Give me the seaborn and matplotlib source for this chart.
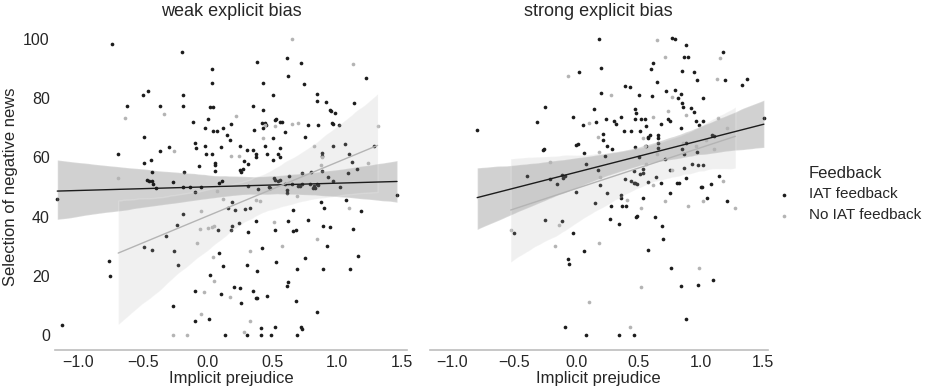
import numpy as np
import pandas as pd
import seaborn as sns
import matplotlib
matplotlib.use("Agg")
import matplotlib.pyplot as plt
from matplotlib.collections import PolyCollection

# ---------------- data ----------------
weak_iat_x = [-1.16,-1.12,-0.74,-0.76,-0.75,-0.69,-0.62,-0.50,-0.46,-0.49,-0.49,-0.47,-0.45,-0.43,-0.43,-0.42,-0.40,-0.44,-0.49,-0.43,
              -0.37,-0.37,-0.32,-0.30,-0.27,-0.26,-0.27,-0.24,-0.23,-0.20,-0.19,-0.19,-0.19,-0.19,-0.18,-0.14,-0.11,-0.10,-0.09,-0.10,
              -0.10,-0.10,-0.07,-0.05,-0.02,-0.02,0.00,-0.01,0.01,0.02,0.04,0.03,0.03,0.03,0.02,0.04,0.06,0.06,0.06,0.07,
              0.08,0.09,0.09,0.10,0.10,0.11,0.12,0.13,0.12,0.15,0.16,0.17,0.18,0.18,0.19,0.19,0.20,0.21,0.24,0.25,
              0.25,0.25,0.26,0.27,0.26,0.28,0.29,0.30,0.30,0.31,0.30,0.31,0.31,0.33,0.35,0.35,0.35,0.36,0.37,0.38,
              0.37,0.37,0.37,0.38,0.38,0.39,0.41,0.41,0.42,0.43,0.43,0.44,0.42,0.43,0.45,0.44,0.46,0.46,0.47,0.48,
              0.49,0.50,0.50,0.50,0.51,0.52,0.52,0.52,0.52,0.53,0.53,0.54,0.54,0.56,0.57,0.56,0.56,0.56,0.60,0.61,
              0.61,0.60,0.61,0.61,0.62,0.62,0.62,0.63,0.65,0.66,0.66,0.68,0.68,0.69,0.69,0.70,0.71,0.72,0.73,0.72,
              0.73,0.73,0.74,0.75,0.75,0.77,0.77,0.79,0.80,0.81,0.82,0.83,0.84,0.84,0.84,0.84,0.85,0.85,0.87,0.88,
              0.88,0.88,0.89,0.89,0.90,0.91,0.92,0.93,0.94,0.94,0.95,0.96,0.97,0.97,0.97,0.98,1.01,1.02,1.06,1.07,
              1.08,1.09,1.10,1.11,1.12,1.13,1.15,1.16,1.18,1.22,1.28,1.46]
weak_iat_y = [46,3.5,98.3,25,20,61,77.5,81,82.5,67,58,52.5,52,55,52,51,49.7,59,29.7,28.9,
              77.5,62,33.4,63.5,51.6,28.3,10,37.3,23.6,95.5,41,81,77.5,50,55,50,71.8,64.7,63,48.3,
              15,4.7,57,50,70,63.7,73,61,5.6,77,77,89.7,85,61,20.4,69,58,57.5,55.4,69,
              35.6,27.8,51.3,14,63.6,52,70,0,23.3,67.4,43,66,71.3,35.5,37,45,16.4,42.2,37.8,16,
              64,55.6,55,56,10.8,58.8,42.5,62.5,23.7,34.8,0,50.3,57.6,43,15,77.4,62.4,69.4,12.7,12.5,
              60.2,61.3,38.5,92.2,21.6,49.3,0,2.5,29.4,76,70,71.7,71.7,85,71,64,61,13.3,50,49.5,
              0,66.5,59.2,81,53,52.5,2.7,35.4,72.7,73,24.6,52,61,72,72,63,52.4,60,51,49,
              48,68.5,93.5,16.7,17.8,87.6,38.4,53.7,51,42.1,35.3,35.5,11.5,0,22.2,50.3,50.4,2.6,2,92,
              54.6,51.1,84.7,26.2,66.9,71,39,51,55,49.5,50.4,49.5,51,81.5,79,7.9,50.8,71,44.8,61.5,
              60.5,55.5,37,22.2,42.8,78.7,30.2,53.4,76,36.5,75.5,71.5,71.2,52,64,75,70.8,50,64.5,45.7,
              54.8,61,22.4,58.5,35.7,78.2,56,26.6,42,86.7,64,47.4]

weak_no_x = [-0.69,-0.64,-0.34,-0.26,-0.27,-0.16,-0.08,-0.06,-0.05,-0.05,-0.03,0.00,0.03,0.04,0.05,0.05,0.07,0.12,0.17,0.18,
             0.22,0.24,0.28,0.33,0.33,0.37,0.40,0.43,0.44,0.51,0.52,0.57,0.62,0.65,0.65,0.69,0.70,0.82,0.84,0.87,
             0.88,1.09,1.12,1.24,1.31]
weak_no_y = [53,73.4,74.6,62.1,0,0,31,35.7,42,7,14.6,36,36.5,26.4,18.3,36.9,48.5,46,13,60.4,
             74,60.4,1.1,4.8,28.5,45.6,45.4,66.6,70.8,38.3,70.6,30,51,100,71.3,47,71.5,63.8,32.6,57.3,
             60,42.8,91.5,58,70.6]

strong_iat_x = [-0.80,-0.50,-0.40,-0.32,-0.25,-0.27,-0.26,-0.25,-0.21,-0.16,-0.12,-0.11,-0.12,-0.09,-0.09,-0.07,-0.06,-0.03,-0.03,0.00,
                0.00,0.01,0.02,0.05,0.06,0.06,0.08,0.08,0.14,0.15,0.16,0.17,0.18,0.19,0.20,0.20,0.21,0.21,0.23,0.25,
                0.24,0.25,0.27,0.28,0.29,0.30,0.32,0.34,0.34,0.36,0.36,0.37,0.36,0.39,0.39,0.38,0.40,0.43,0.44,0.44,
                0.46,0.47,0.49,0.46,0.46,0.47,0.47,0.47,0.48,0.48,0.49,0.50,0.50,0.51,0.52,0.55,0.51,0.54,0.54,0.54,
                0.56,0.56,0.58,0.58,0.58,0.58,0.59,0.60,0.61,0.62,0.63,0.64,0.65,0.66,0.66,0.66,0.66,0.68,0.68,0.69,
                0.70,0.71,0.72,0.74,0.75,0.75,0.75,0.76,0.77,0.79,0.79,0.81,0.82,0.83,0.84,0.85,0.84,0.87,0.90,0.85,
                0.85,0.86,0.87,0.87,0.88,0.88,0.84,0.88,0.88,0.92,0.93,0.95,0.95,0.96,0.97,0.97,0.98,0.98,0.99,1.00,
                1.01,1.02,1.02,1.02,1.05,1.08,1.09,1.10,1.11,1.15,1.18,1.20,1.21,1.33,1.37,1.51]
strong_iat_y = [69.4,34.4,53.7,71.9,77.1,62.5,62.8,38.7,52.6,50.9,54,53.2,38.5,53.7,2.8,25.6,24.1,73.5,34.4,48.3,
                64.3,64.5,88.7,71,61.6,28.4,57.8,0,76.2,44.7,72,55.6,100,50.7,90,81.6,66,67.9,60.6,63.7,
                73.1,47.9,39.1,43.5,62.8,72.2,71.4,37.6,0,47.2,46.4,43.5,73.7,84,52.6,69,43.6,83.7,69,52,
                51.5,51.5,51,55.3,0,63.4,76.4,73,75,39.8,40.1,81,60,54.3,73,73,69,56,54.8,46.4,
                63.7,70.6,28.7,51.7,66.5,67,67.6,89.7,80.8,91.7,40,53.4,85.5,67.4,66.4,65,63,51.2,71.1,37,
                32.4,59.5,82.4,73,72.3,48.1,55.6,22.8,100.3,100,82.7,51.2,80,51.5,81.5,89,69.8,94,94,62.8,
                78.4,77.1,61,56.5,97.8,64.7,16.6,5.4,53.1,76.7,57.6,88.8,75.2,72.2,86.2,61.7,57.5,16.9,70.9,50,
                50,79.9,72.2,57.4,46.2,50.9,67.4,18.7,67.2,53.7,95.6,86,45.3,84.5,86.6,73.4]

strong_no_x = [-0.53,-0.21,-0.17,-0.14,-0.07,0.10,0.10,0.17,0.18,0.18,0.19,0.28,0.41,0.43,0.52,0.52,0.54,0.55,0.56,0.62,
               0.62,0.65,0.65,0.71,0.71,0.74,0.77,0.77,0.86,0.88,0.90,0.96,0.99,1.02,1.04,1.11,1.13,1.14,1.16,1.18,
               1.21,1.28]
strong_no_y = [35.5,58.4,30.1,37.3,87.4,71.6,11.2,66.9,61.8,31.2,53.4,81.2,45.5,2.6,43,16.4,66.6,63.7,57.8,73.7,
               50.8,99.7,61.1,45.3,93.9,75.8,80.4,55.6,65,74.3,43.6,63.7,22.8,45.3,65.8,62.7,86.5,73.4,93.6,52,
               70,42.8]

panels = ["weak explicit bias", "strong explicit bias"]
feedback_levels = ["IAT feedback", "No IAT feedback"]
colors = ["#1c1c1c", "#b4b4b4"]

frames = []
for panel, fb, xs, ys in [
    (panels[0], feedback_levels[0], weak_iat_x, weak_iat_y),
    (panels[0], feedback_levels[1], weak_no_x, weak_no_y),
    (panels[1], feedback_levels[0], strong_iat_x, strong_iat_y),
    (panels[1], feedback_levels[1], strong_no_x, strong_no_y),
]:
    frames.append(pd.DataFrame({"Implicit prejudice": xs,
                                "Selection of negative news": ys,
                                "Feedback": fb, "bias": panel}))
df = pd.concat(frames, ignore_index=True)

# ---------------- plot ----------------
sns.set_style("white")
plt.rcParams["font.family"] = ["Liberation Sans", "DejaVu Sans"]

g = sns.lmplot(data=df, x="Implicit prejudice", y="Selection of negative news",
               hue="Feedback", col="bias", col_order=panels,
               hue_order=feedback_levels, palette=colors,
               height=3.88, aspect=1.0,
               scatter_kws={"s": 7, "linewidths": 0, "alpha": 1},
               line_kws={"lw": 1.0}, legend=True, sharey=True, sharex=True)

fig = g.figure
fig.set_size_inches(9.43, 3.88)
fig.set_dpi(100)

txt = "#262626"
positions = [[0.058, 0.098, 0.374, 0.840], [0.456, 0.098, 0.358, 0.840]]
for ax, pos, title in zip(g.axes.flat, positions, panels):
    ax.set_position(pos)
    ax.set_title(title, fontsize=13, color=txt)
    ax.set_xlim(-1.18, 1.54)
    ax.set_ylim(-5, 105)
    ax.set_xticks([-1.0, -0.5, 0.0, 0.5, 1.0, 1.5])
    ax.set_yticks([0, 20, 40, 60, 80, 100])
    ax.tick_params(labelsize=11.5, colors=txt, length=0)
    ax.set_xlabel("Implicit prejudice", fontsize=12, color=txt, labelpad=1)
    for s in ["left", "top", "right"]:
        ax.spines[s].set_visible(False)
    ax.spines["bottom"].set_color("#bdbdbd")
    ax.spines["bottom"].set_linewidth(1.2)
    for coll in ax.collections:
        if isinstance(coll, PolyCollection):
            coll.set_alpha(0.2)

g.axes.flat[0].set_ylabel("Selection of negative news", fontsize=12, color=txt)
g.axes.flat[1].set_ylabel("")
g.axes.flat[1].tick_params(labelleft=False)

leg = g._legend
leg.set_bbox_to_anchor((0.803, 0.5))
leg.set_loc("center left")
leg.get_title().set_fontsize(12)
leg.get_title().set_color(txt)
for t in leg.get_texts():
    t.set_fontsize(11)
    t.set_color(txt)

fig.savefig("out.png", dpi=100)
